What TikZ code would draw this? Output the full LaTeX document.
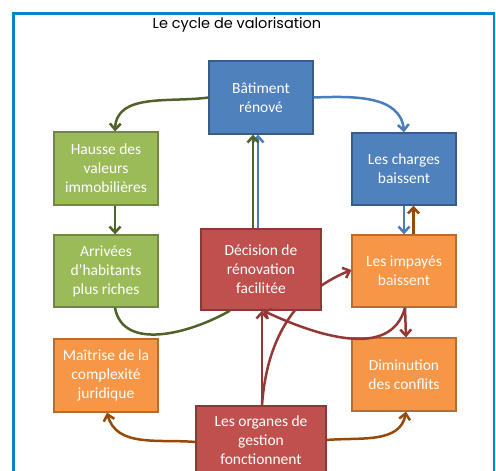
\documentclass[tikz,border=0pt]{standalone}
\usepackage{fontspec}
\setmainfont{Carlito}
\newfontfamily\titrefont{Poppins}
\usetikzlibrary{arrows.meta}
\usetikzlibrary{backgrounds}
\definecolor{cadre}{RGB}{8,132,206}
\definecolor{bleu}{RGB}{79,129,189}
\definecolor{bleufonce}{RGB}{56,93,138}
\definecolor{vert}{RGB}{155,187,89}
\definecolor{vertfonce}{RGB}{113,137,63}
\definecolor{rouge}{RGB}{192,80,77}
\definecolor{rougefonce}{RGB}{140,56,54}
\definecolor{orange}{RGB}{247,150,70}
\definecolor{orangefonce}{RGB}{182,109,49}
\definecolor{flvert}{RGB}{79,98,40}
\definecolor{flbleu}{RGB}{74,126,187}
\definecolor{flrouge}{RGB}{149,55,53}
\definecolor{flbrun}{RGB}{152,72,7}

\begin{document}
\begin{tikzpicture}[x=1pt, y=-1pt, >={Straight Barb[length=6pt,width=11pt]}]
	% STYLES
	\tikzstyle{boite} = [rectangle, line width=1.3pt, text=white, align=center,
		font=\fontsize{15.5}{19}\selectfont, minimum width=104pt, minimum height=73pt, inner sep=2pt]
	\tikzstyle{bleue} = [boite, fill=bleu, draw=bleufonce]
	\tikzstyle{verte} = [boite, fill=vert, draw=vertfonce]
	\tikzstyle{rougee} = [boite, fill=rouge, draw=rougefonce]
	\tikzstyle{orangee} = [boite, fill=orange, draw=orangefonce]
	\tikzstyle{fleche} = [line width=2.5pt, ->]

	\useasboundingbox (0, 0) rectangle (496, 471);
	\clip (0, 0) rectangle (496, 471);

	% CADRE
	\draw[line width=2.7pt, draw=cadre] (13.5, 13.5) rectangle (494, 490);
	\node (titre) at (237, 25) {\titrefont\fontsize{14.5}{17}\selectfont Le cycle de valorisation};

	% BOITES
	% haut
	\node[bleue] (batiment) at (261, 97.5) {Bâtiment\\rénové};
	% gauche
	\node[verte] (hausse) at (106, 168.5) {Hausse des\\valeurs\\immobilières};
	\node[verte, minimum height=72pt] (arrivees) at (106, 271) {Arrivées\\d’habitants\\plus riches};
	\node[orangee] (maitrise) at (106, 375.5) {Maîtrise de la\\complexité\\juridique};
	% droite
	\node[bleue, minimum height=72pt] (charges) at (404, 169) {Les charges\\baissent};
	\node[orangee, minimum height=72pt] (impayes) at (404, 271) {Les impayés\\baissent};
	\node[orangee] (diminution) at (404, 374.5) {Diminution\\des conflits};
	% centre
	\node[rougee, minimum width=120pt, minimum height=81pt] (decision) at (261, 269.5) {Décision de\\rénovation\\facilitée};
	\node[rougee, minimum width=130pt, minimum height=68pt] (organes) at (261, 440) {Les organes de\\gestion\\fonctionnent};

	% FLECHES
	% depuis le batiment
	\draw[fleche, flvert] (batiment.west) to[out=188, in=88] ([xshift=9pt]hausse.north);
	\draw[fleche, flbleu] (batiment.east) to[out=2, in=95] (charges.north);
	% colonne gauche
	\draw[fleche, flvert] ([xshift=9pt]hausse.south) -- ([xshift=9pt]arrivees.north);
	\draw[line width=2.5pt, flvert] ([xshift=9pt]arrivees.south) to[out=-80, in=-150] ([xshift=-31pt]decision.south);
	% vers le batiment
	\draw[fleche, flbleu] ([xshift=-3pt]decision.north) -- ([xshift=-3pt]batiment.south);
	\draw[fleche, flvert] ([xshift=-8pt]decision.north) -- ([xshift=-8pt]batiment.south);
	% colonne droite
	\draw[fleche, flbleu] (charges.south) -- (impayes.north);
	\draw[fleche, flbrun] ([xshift=9.5pt]impayes.north) -- ([xshift=9.5pt]charges.south);
	\draw[fleche, flrouge] ([xshift=1pt]impayes.south) -- ([xshift=2pt]diminution.north);
	\draw[fleche, flrouge] ([xshift=1pt]impayes.south) to[out=-105, in=-25] ([xshift=2pt]decision.south);
	% depuis les organes
	\begin{pgfonlayer}{background}
		\draw[fleche, flrouge] ([xshift=1pt]organes.north) to[out=86, in=202] ([yshift=1pt]impayes.west);
	\end{pgfonlayer}
	\draw[fleche, flrouge] ([xshift=1pt]organes.north) -- ([xshift=1pt]decision.south);
	\draw[fleche, flbrun] ([yshift=-2pt]organes.west) to[out=175, in=-75] ([xshift=1pt]maitrise.south);
	\draw[fleche, flbrun] (organes.east) to[out=5, in=-100] ([xshift=2pt]diminution.south);
\end{tikzpicture}
\end{document}
